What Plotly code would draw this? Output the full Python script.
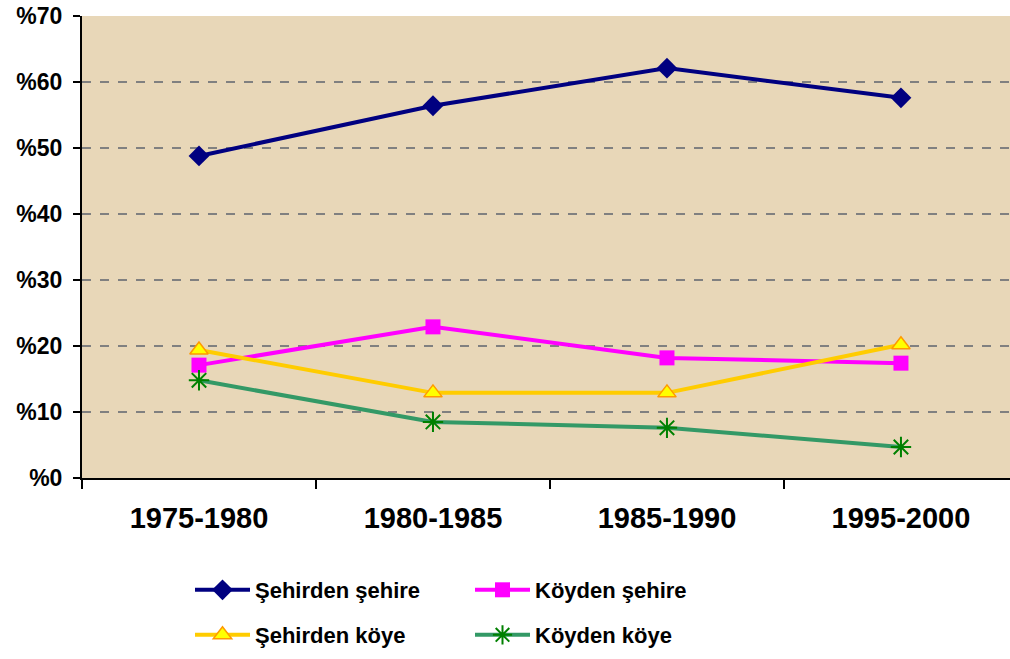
import plotly.graph_objects as go

periods = ["1975-1980", "1980-1985", "1985-1990", "1995-2000"]
sehirden_sehire = [48.8, 56.4, 62.1, 57.6]
koyden_sehire = [17.1, 22.9, 18.2, 17.4]
sehirden_koye = [19.4, 12.9, 12.9, 20.2]
koyden_koye = [14.8, 8.5, 7.6, 4.7]
y_tick_vals = [0, 10, 20, 30, 40, 50, 60, 70]
y_tick_text = ["%0", "%10", "%20", "%30", "%40", "%50", "%60", "%70"]

FONT = "Liberation Sans"

fig = go.Figure()
fig.add_trace(go.Scatter(
    x=periods, y=sehirden_sehire, name="Şehirden şehire", mode="lines+markers",
    line=dict(color="#000080", width=4),
    marker=dict(symbol="diamond", size=16, color="#000080"),
    legend="legend"))
fig.add_trace(go.Scatter(
    x=periods, y=koyden_sehire, name="Köyden şehire", mode="lines+markers",
    line=dict(color="#FF00FF", width=4),
    marker=dict(symbol="square", size=15, color="#FF00FF"),
    legend="legend"))
fig.add_trace(go.Scatter(
    x=periods, y=sehirden_koye, name="Şehirden köye", mode="lines+markers",
    line=dict(color="#FFCC00", width=4),
    marker=dict(symbol="triangle-up", size=16, color="#FFFF00",
                line=dict(color="#FF9900", width=1.5)),
    legend="legend2"))
fig.add_trace(go.Scatter(
    x=periods, y=koyden_koye, name="Köyden köye", mode="lines+markers",
    line=dict(color="#339966", width=4),
    marker=dict(symbol="asterisk-open", size=17, color="#008000",
                line=dict(color="#008000", width=2)),
    legend="legend2"))

legend_common = dict(
    orientation="h", xref="container", yref="container",
    x=190 / 1010, xanchor="left", yanchor="middle",
    font=dict(family=FONT, size=22, color="black", weight="bold"),
    bgcolor="rgba(0,0,0,0)", itemwidth=55, entrywidth=210, entrywidthmode="pixels",
    traceorder="normal",
)

fig.update_layout(
    width=1010, height=659,
    margin=dict(l=82, r=0, t=16, b=181, autoexpand=False),
    paper_bgcolor="white",
    plot_bgcolor="#E8D7B8",
    showlegend=True,
    legend=dict(**legend_common, y=1 - 590 / 659),
    legend2=dict(**legend_common, y=1 - 635 / 659),
    xaxis=dict(
        type="category", range=[-0.5, 3.466], automargin=False,
        showline=True, linecolor="black", linewidth=2,
        ticks="outside", tickson="boundaries", ticklen=9, tickwidth=2, tickcolor="black",
        showgrid=False,
        tickfont=dict(family=FONT, size=29, color="black", weight="bold"),
        ticklabelstandoff=13,
    ),
    yaxis=dict(
        range=[0, 70], tickvals=y_tick_vals, ticktext=y_tick_text, automargin=False,
        showline=True, linecolor="black", linewidth=2,
        ticks="outside", ticklen=7, tickwidth=2, tickcolor="black",
        showgrid=True, gridcolor="#808080", gridwidth=2, griddash="dash",
        zeroline=False,
        tickfont=dict(family=FONT, size=23, color="black", weight="bold"),
        ticklabelstandoff=6,
    ),
)

fig.write_html(
    "out.html",
    config={"displayModeBar": False},
    post_script="document.body.style.margin='0';document.body.style.overflow='hidden';",
)
